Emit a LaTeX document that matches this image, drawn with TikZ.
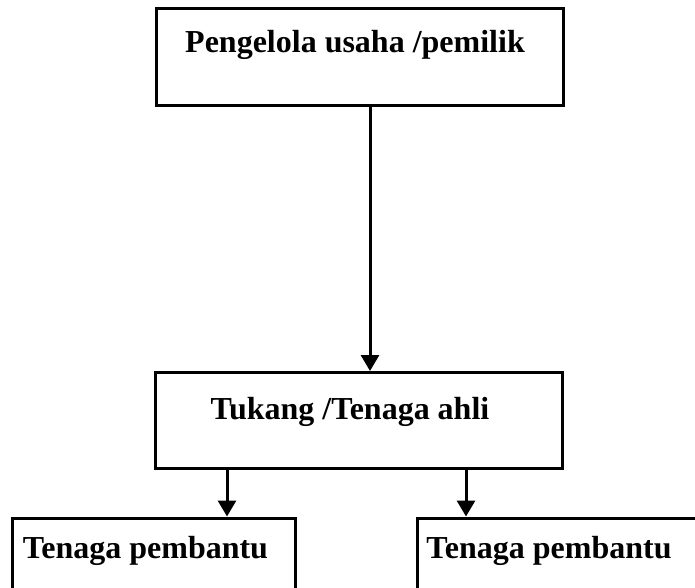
\documentclass[tikz,border=0pt]{standalone}
\usepackage{fontspec}
\setmainfont{Liberation Serif}
\usetikzlibrary{arrows.meta}
\begin{document}
\begin{tikzpicture}[x=1pt,y=-1pt,
  box/.style={draw, line width=3pt, inner sep=0pt, minimum width=#1},
  lbl/.style={anchor=base, inner sep=0pt, font=\fontsize{32}{36}\selectfont\bfseries},
  arr/.style={line width=3pt, -{Triangle[width=18pt,length=16pt]}}]
\clip (0,0) rectangle (695,588);
\node[box=407pt, minimum height=97pt] (top) at (359.5,57.5) {};
\node[box=407pt, minimum height=96pt] (mid) at (358.5,420.5) {};
\node[box=283pt, minimum height=140pt] (bl) at (153.5,588) {};
\node[box=343pt, minimum height=140pt] (br) at (588.5,588) {};
\node[lbl] (t1) at (355,53) {Pengelola usaha /pemilik};
\node[lbl] (t2) at (350,419) {Tukang /Tenaga ahli};
\node[lbl] (t3) at (145.5,558) {Tenaga pembantu};
\node[lbl] (t4) at (549,558) {Tenaga pembantu};
\draw[arr] ([xshift=10.5pt]top.south) -- ([xshift=11.5pt]mid.north);
\draw[arr] ([xshift=-131.5pt]mid.south) -- ([xshift=73.5pt]bl.north);
\draw[arr] ([xshift=107.5pt]mid.south) -- ([xshift=-122.5pt]br.north);
\end{tikzpicture}
\end{document}
